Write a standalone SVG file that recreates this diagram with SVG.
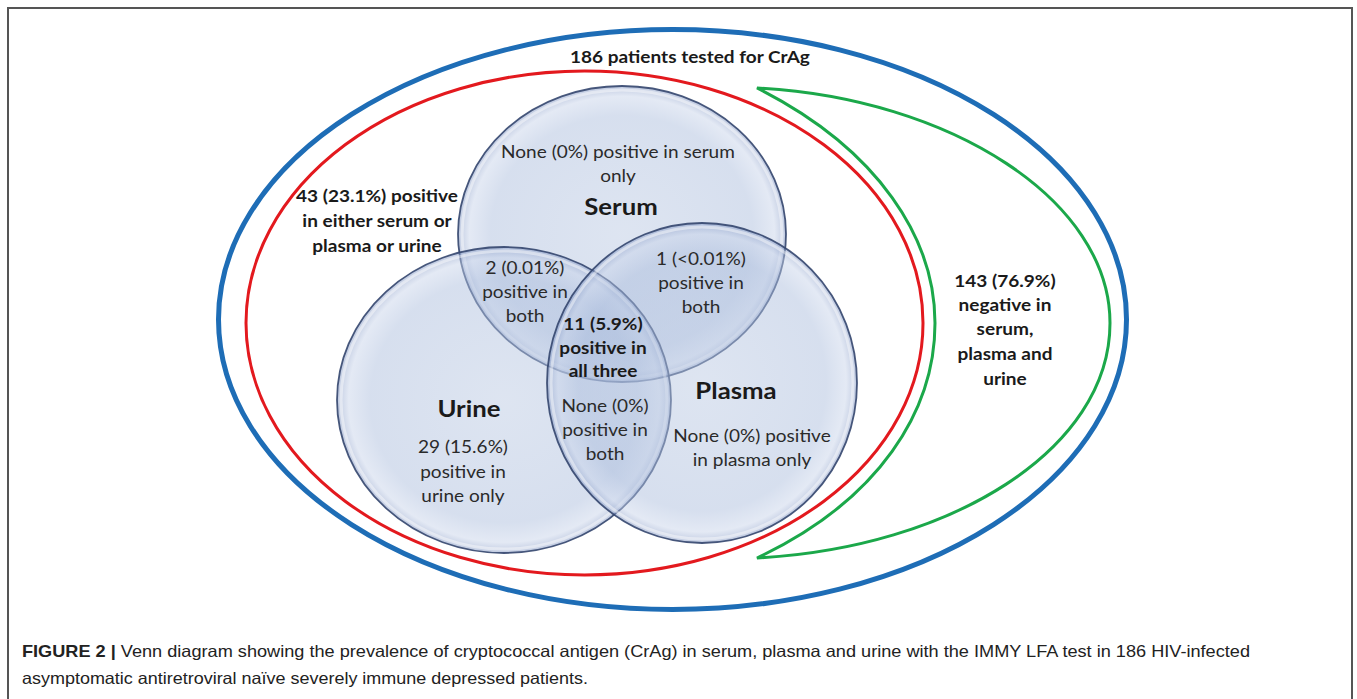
<svg xmlns="http://www.w3.org/2000/svg" width="1357" height="699" viewBox="0 0 1357 699">
<defs>
<radialGradient id="bubble" cx="50%" cy="50%" r="50%">
<stop offset="0%" stop-color="#b9c8e2"/>
<stop offset="80%" stop-color="#aabcdc"/>
<stop offset="93%" stop-color="#c6d2e9"/>
<stop offset="100%" stop-color="#7a90c0"/>
</radialGradient>
<style>
.frame{fill:none;stroke:#555;stroke-width:2}
.blue{fill:none;stroke:#1e6db6;stroke-width:5}
.red{fill:none;stroke:#e3191e;stroke-width:3}
.green{fill:none;stroke:#1ba84a;stroke-width:3;stroke-linejoin:miter}
.set{fill:url(#bubble);fill-opacity:0.48;stroke:#34466e;stroke-width:1.8;stroke-opacity:0.9}
.rim{fill:none;stroke:#ffffff;stroke-opacity:0.45;stroke-width:3}
text{font-family:Lato,"Open Sans","Liberation Sans",sans-serif;fill:#1a1a1a;text-anchor:middle}
.t{font-size:17px;fill:#2a2a2a}
.b{font-size:17px;font-weight:bold}
.h{font-size:23px;font-weight:bold}
.cap{font-family:"Liberation Sans",Arial,sans-serif;font-size:16.5px;text-anchor:start;fill:#222}
</style>
</defs>
<rect class="frame" x="8" y="8" width="1344" height="700"/>
<g id="all-patients">
<ellipse class="blue" cx="672.5" cy="319.5" rx="454" ry="290"/>
</g>
<g id="positive-any">
<ellipse class="red" cx="584.5" cy="323" rx="338.5" ry="252"/>
</g>
<g id="negative-all">
<path class="green" d="M757,88 C950,98 1110,200 1110,323 C1110,450 950,548 757,558 C880,500 935,410 935,323 C935,240 880,150 757,88 Z"/>
</g>
<g id="serum">
<ellipse class="set" cx="622" cy="234" rx="164" ry="148"/>
<ellipse class="rim" cx="622" cy="234" rx="160" ry="144"/>
</g>
<g id="urine">
<ellipse class="set" cx="504" cy="400" rx="167" ry="153"/>
<ellipse class="rim" cx="504" cy="400" rx="163" ry="149"/>
</g>
<g id="plasma">
<ellipse class="set" cx="702" cy="383" rx="155" ry="160"/>
<ellipse class="rim" cx="702" cy="383" rx="151" ry="156"/>
</g>
<g id="labels" transform="scale(1.12,1)">
<text class="b" x="616.07" y="63">186 patients tested for CrAg</text>
<text class="b" x="336.61" y="202">43 (23.1%) positive</text>
<text class="b" x="336.61" y="227">in either serum or</text>
<text class="b" x="336.61" y="252">plasma or urine</text>
<text class="b" x="897.32" y="287">143 (76.9%)</text>
<text class="b" x="897.32" y="311">negative in</text>
<text class="b" x="897.32" y="335">serum,</text>
<text class="b" x="897.32" y="360">plasma and</text>
<text class="b" x="897.32" y="385">urine</text>
<text class="t" x="551.79" y="158">None (0%) positive in serum</text>
<text class="t" x="551.79" y="182">only</text>
<text class="h" x="554.46" y="215">Serum</text>
<text class="t" x="468.75" y="274">2 (0.01%)</text>
<text class="t" x="468.75" y="298">positive in</text>
<text class="t" x="468.75" y="322">both</text>
<text class="t" x="625.89" y="265">1 (&lt;0.01%)</text>
<text class="t" x="625.89" y="289">positive in</text>
<text class="t" x="625.89" y="313">both</text>
<text class="b" x="538.39" y="330">11 (5.9%)</text>
<text class="b" x="538.39" y="354">positive in</text>
<text class="b" x="538.39" y="377">all three</text>
<text class="t" x="540.18" y="412">None (0%)</text>
<text class="t" x="540.18" y="436">positive in</text>
<text class="t" x="540.18" y="460">both</text>
<text class="h" x="418.75" y="417">Urine</text>
<text class="t" x="413.39" y="453">29 (15.6%)</text>
<text class="t" x="413.39" y="478">positive in</text>
<text class="t" x="413.39" y="502">urine only</text>
<text class="h" x="657.14" y="399">Plasma</text>
<text class="t" x="671.43" y="442">None (0%) positive</text>
<text class="t" x="671.43" y="466">in plasma only</text>
</g>
<g id="caption">
<text class="cap" x="22" y="657" textLength="1228" lengthAdjust="spacingAndGlyphs"><tspan font-weight="bold">FIGURE 2 |</tspan> Venn diagram showing the prevalence of cryptococcal antigen (CrAg) in serum, plasma and urine with the IMMY LFA test in 186 HIV-infected</text>
<text class="cap" x="22" y="684" textLength="566" lengthAdjust="spacingAndGlyphs">asymptomatic antiretroviral naïve severely immune depressed patients.</text>
</g>
</svg>
